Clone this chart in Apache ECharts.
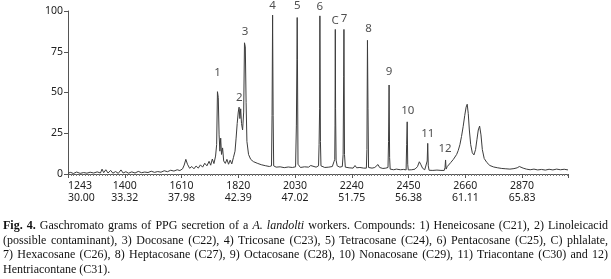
<!DOCTYPE html>
<html>
<head>
<meta charset="utf-8">
<script src="https://cdn.jsdelivr.net/npm/echarts@6/dist/echarts.min.js"></script>
<style>
	html, body { margin: 0; padding: 0; background: #fff; }
	#wrap { position: relative; width: 611px; height: 279px; overflow: hidden; }
	#chart { position: absolute; left: 0; top: 0; width: 611px; height: 279px; }
	#caption {
		position: absolute; left: 3px; top: 218px; width: 605px;
		font-family: "Liberation Serif", "DejaVu Serif", serif;
		font-size: 12px; line-height: 14.5px; color: #111;
	}
	#caption div { text-align: justify; text-align-last: justify; white-space: nowrap; }
	#caption div.last { text-align-last: left; }
</style>
</head>
<body>
<div id="wrap">
	<div id="chart"></div>
	<div id="caption">
		<div><b>Fig. 4.</b> Gaschromato grams of PPG secretion of a <i>A. landolti</i> workers. Compounds: 1) Heneicosane (C21), 2) Linoleicacid</div>
		<div>(possible contaminant), 3) Docosane (C22), 4) Tricosane (C23), 5) Tetracosane (C24), 6) Pentacosane (C25), C) phlalate,</div>
		<div>7) Hexacosane (C26), 8) Heptacosane (C27), 9) Octacosane (C28), 10) Nonacosane (C29), 11) Triacontane (C30) and 12)</div>
		<div class="last">Hentriacontane (C31).</div>
	</div>
</div>
<script>
// x axis tick labels (retention index / retention time, min)
const riLabels = ['1243', '1400', '1610', '1820', '2030', '2240', '2450', '2660', '2870'];
const timeLabels = ['30.00', '33.32', '37.98', '42.39', '47.02', '51.75', '56.38', '61.11', '65.83'];

// chromatogram trace
const traceX = [
	1190, 1200, 1210, 1222, 1235, 1248, 1260, 1272, 1285, 1298, 1310, 1316, 1322, 1330, 1338, 1348, 1356, 1366, 1376, 1386,
	1394, 1404, 1414, 1426, 1438, 1450, 1462, 1474, 1486, 1498, 1510, 1522, 1534, 1546, 1558, 1570, 1582, 1594, 1604, 1614,
	1620, 1626, 1632, 1640, 1648, 1656, 1664, 1672, 1680, 1688, 1696, 1704, 1712, 1718, 1724, 1730, 1736, 1740, 1743, 1746,
	1749, 1752, 1755, 1758, 1762, 1766, 1772, 1778, 1784, 1790, 1796, 1802, 1808, 1812, 1816, 1820, 1823, 1826, 1829, 1832,
	1836, 1840, 1843, 1846, 1849, 1852, 1858, 1866, 1876, 1890, 1905, 1920, 1935, 1943, 1945, 1947, 1949, 1951, 1960, 1975,
	1990, 2005, 2020, 2032, 2035, 2037, 2038, 2039, 2041, 2050, 2065, 2080, 2088, 2095, 2108, 2117, 2119, 2121, 2122, 2124,
	2126, 2140, 2155, 2168, 2174, 2177, 2178, 2179, 2180, 2182, 2186, 2196, 2205, 2208, 2210, 2211, 2213, 2216, 2230, 2245,
	2252, 2258, 2270, 2284, 2294, 2296, 2298, 2300, 2302, 2315, 2325, 2337, 2343, 2355, 2366, 2374, 2376, 2378, 2380, 2382,
	2395, 2405, 2412, 2420, 2432, 2441, 2443, 2445, 2447, 2449, 2462, 2474, 2483, 2490, 2495, 2502, 2510, 2517, 2519, 2521,
	2523, 2526, 2540, 2555, 2570, 2582, 2585, 2587, 2589, 2593, 2600, 2606, 2612, 2616, 2622, 2628, 2634, 2640, 2646, 2652,
	2658, 2663, 2667, 2671, 2675, 2680, 2686, 2692, 2698, 2703, 2708, 2713, 2718, 2723, 2730, 2740, 2751, 2765, 2780, 2795,
	2810, 2825, 2840, 2852, 2860, 2866, 2874, 2886, 2900, 2914, 2928, 2942, 2956, 2970, 2984, 2998, 3012, 3026, 3040
];
const traceY = [
	0.5, 1.0, 0.3, 1.2, 0.4, 0.9, 0.5, 1.1, 0.6, 1.3, 0.6, 3.0, 0.8, 2.6, 0.6, 2.2, 0.5, 1.5, 0.4, 2.5,
	0.6, 1.4, 0.5, 1.3, 0.6, 1.6, 0.8, 1.2, 0.9, 1.7, 1.0, 1.5, 1.1, 2.0, 1.4, 2.3, 1.8, 2.6, 2.1, 3.2,
	5.5, 9.0, 6.0, 3.5, 4.6, 3.2, 4.9, 3.6, 5.6, 4.2, 6.6, 5.0, 7.8, 5.4, 9.2, 6.4, 11, 18, 50.5, 47,
	24, 14, 22, 12, 16, 8, 6.5, 9.0, 6.0, 8.5, 6.2, 10, 14, 22, 31, 38, 41, 34, 40, 31,
	27, 38, 80.5, 78, 44, 20, 12, 9.0, 7.6, 6.6, 5.7, 5.1, 4.6, 5.0, 36, 97.5, 36, 5.0, 4.2, 4.4,
	3.9, 4.3, 4.0, 4.4, 30, 70, 96, 70, 6.0, 4.0, 4.4, 4.2, 5.2, 4.0, 4.2, 5.0, 18, 40, 97, 20,
	5.0, 4.0, 4.2, 4.6, 7.5, 9.0, 30, 88.7, 40, 8.5, 5.0, 4.2, 4.6, 12, 60, 88.7, 12, 4.2, 3.8, 3.6,
	5.2, 3.8, 4.0, 3.6, 3.6, 15, 82, 40, 4.0, 3.6, 4.0, 5.8, 4.0, 3.4, 3.6, 4.0, 20, 54.6, 10, 3.0,
	2.6, 3.0, 3.8, 2.6, 2.8, 2.5, 18, 32, 6.0, 2.5, 2.6, 3.0, 4.5, 7.5, 6.0, 3.5, 2.6, 2.5, 8.0, 18.8,
	5.0, 2.3, 2.2, 2.4, 2.2, 2.2, 4.0, 8.6, 3.0, 4.5, 5.0, 7.0, 6.5, 9.0, 10, 12, 14.5, 18, 23, 29,
	36, 41, 42.8, 37, 27, 18, 13, 11.7, 15, 21, 27, 29.4, 24, 15, 9.5, 7.0, 5.2, 4.3, 3.8, 3.4,
	3.2, 3.0, 3.3, 3.8, 4.6, 5.0, 3.6, 3.0, 2.6, 3.0, 2.5, 2.8, 2.4, 2.9, 2.5, 3.0, 2.6, 2.9, 2.5
];

// peak labels: name, position, label height (in % units)
const peakNames = ['1', '2', '3', '4', '5', '6', 'C', '7', '8', '9', '10', '11', '12'];
const peakX = [1743, 1824, 1845, 1947, 2038, 2122, 2178, 2211, 2302, 2378, 2447, 2521, 2585];
const peakLabelY = [62, 47, 87.5, 103, 103.5, 102.5, 94, 95, 89.4, 63, 38.7, 24.5, 15.3];

const xMin = 1190;
const xMax = 3040;
const xStep = 210;

const chart = echarts.init(document.getElementById('chart'), null, {renderer: 'canvas'});

const labelFont = {
	fontFamily: '"Noto Sans", "Open Sans", sans-serif',
	fontSize: 10.5,
	color: '#222'
};

chart.setOption({
	animation: false,
	backgroundColor: '#fff',
	grid: {left: 68, right: 43, top: 11, bottom: 105},
	xAxis: {
		type: 'value',
		min: xMin,
		max: xMax,
		interval: xStep,
		splitLine: {show: false},
		axisLine: {show: true, lineStyle: {color: '#555', width: 1}},
		axisTick: {show: true, length: 4, lineStyle: {color: '#555'}},
		minorTick: {show: true, splitNumber: 20, length: 2, lineStyle: {color: '#777'}},
		axisLabel: Object.assign({}, labelFont, {
			margin: 6,
			lineHeight: 12,
			alignMinLabel: 'left',
			formatter: v => {
				const i = Math.round((v - xMin) / xStep);
				if(i < 0 || i >= riLabels.length || Math.abs(v - (xMin + i * xStep)) > 1) return '';
				return riLabels[i] + '\n' + timeLabels[i];
			}
		})
	},
	yAxis: {
		type: 'value',
		min: 0,
		max: 100,
		interval: 25,
		splitLine: {show: false},
		axisLine: {show: true, lineStyle: {color: '#555', width: 1}},
		axisTick: {show: true, length: 4, lineStyle: {color: '#555'}},
		axisLabel: Object.assign({}, labelFont, {margin: 5})
	},
	series: [
		{
			type: 'line',
			data: traceX.map((x, i) => [x, traceY[i]]),
			showSymbol: false,
			symbol: 'none',
			clip: false,
			lineStyle: {color: '#3c3c3c', width: 1}
		},
		{
			type: 'scatter',
			data: peakX.map((x, i) => ({name: peakNames[i], value: [x, peakLabelY[i]]})),
			symbolSize: 0,
			clip: false,
			silent: true,
			label: Object.assign({}, labelFont, {
				show: true,
				position: 'inside',
				fontSize: 11.5,
				color: '#222',
				formatter: p => p.name
			})
		}
	]
});
</script>
</body>
</html>
